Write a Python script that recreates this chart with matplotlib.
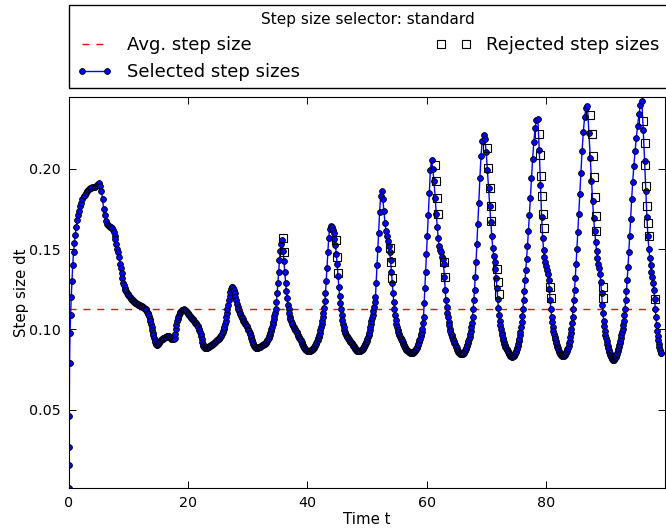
import numpy as np
import matplotlib
matplotlib.use('Agg')
import matplotlib.pyplot as plt

# selected step sizes dt, in the order the solver took them
dt_startup = [0.0012, 0.0156, 0.027, 0.046, 0.079, 0.0975, 0.109, 0.12, 0.13, 0.14,
              0.148, 0.154, 0.159, 0.164, 0.168, 0.171, 0.174, 0.177, 0.179, 0.181,
              0.183, 0.184, 0.185, 0.186, 0.187, 0.1875, 0.188, 0.188, 0.1885, 0.189,
              0.189, 0.1895, 0.19, 0.1905, 0.191]
dt_t5_12 = [0.1895, 0.186, 0.181, 0.175, 0.171, 0.1675, 0.1655, 0.165, 0.1645, 0.164,
            0.1635, 0.163, 0.162, 0.1605, 0.158, 0.156, 0.153, 0.15, 0.148, 0.145,
            0.141, 0.138, 0.135, 0.132, 0.129, 0.1275, 0.126, 0.1248, 0.1237, 0.1228,
            0.122, 0.1213, 0.1206, 0.12, 0.1195, 0.119, 0.1185, 0.118, 0.1176, 0.1173,
            0.117, 0.1167, 0.1164, 0.1161, 0.1158, 0.1155, 0.1152]
dt_t12_15 = [0.1149, 0.1147, 0.1145, 0.1143, 0.1141, 0.1139, 0.1136, 0.1133, 0.1129, 0.1124,
             0.1118, 0.1111, 0.1103, 0.1093, 0.1081, 0.1067, 0.1051, 0.1034, 0.1016, 0.0998,
             0.098, 0.0963, 0.0947, 0.0933, 0.0921, 0.0912, 0.0906, 0.0903, 0.0903]
dt_t15_19 = [0.0908, 0.0912, 0.0917, 0.0922, 0.0927, 0.0931, 0.0935, 0.0938, 0.0941, 0.0943,
             0.0945, 0.0947, 0.0949, 0.0951, 0.0953, 0.0955, 0.0956, 0.0957, 0.0958, 0.0958,
             0.0957, 0.0955, 0.095, 0.0944, 0.094, 0.0942, 0.0945, 0.0948, 0.0944, 0.094,
             0.0945, 0.097, 0.1, 0.103, 0.105, 0.1065, 0.108, 0.109, 0.11, 0.1108,
             0.1114, 0.1118, 0.1121, 0.1123, 0.1124, 0.1123]
dt_t19_26 = [0.1121, 0.1117, 0.1112, 0.1107, 0.1102, 0.1097, 0.1092, 0.1087, 0.1082, 0.1077,
             0.1072, 0.1067, 0.1062, 0.1057, 0.1052, 0.1047, 0.1042, 0.1037, 0.1032, 0.1026,
             0.102, 0.1013, 0.1005, 0.0996, 0.0985, 0.0972, 0.0957, 0.094, 0.0923, 0.0908,
             0.0897, 0.089, 0.0886, 0.0884, 0.0883, 0.0883, 0.0884, 0.0886, 0.0888, 0.089,
             0.0892, 0.0894, 0.0896, 0.0898, 0.09, 0.0902, 0.0905, 0.0908, 0.0911, 0.0914,
             0.0917, 0.092, 0.0923, 0.0926, 0.0929, 0.0932, 0.0935, 0.0938, 0.0942, 0.0946,
             0.095, 0.0955, 0.096, 0.0966, 0.0973, 0.0981, 0.099]
dt_t26_32 = [0.1, 0.1015, 0.1032, 0.1052, 0.1075, 0.11, 0.1127, 0.1155, 0.1183, 0.121,
             0.1233, 0.125, 0.1262, 0.1266, 0.126, 0.1245, 0.1225, 0.1202, 0.118, 0.116,
             0.1142, 0.1127, 0.1114, 0.1103, 0.1093, 0.1084, 0.1076, 0.1069, 0.1062, 0.1055,
             0.1048, 0.1041, 0.1034, 0.1027, 0.102, 0.1013, 0.1005, 0.0997, 0.0988, 0.0979,
             0.0969, 0.0958, 0.0947, 0.0936, 0.0925, 0.0915, 0.0906, 0.0898, 0.0892, 0.0888,
             0.0886, 0.0885, 0.0885, 0.0886, 0.0887, 0.0888, 0.0889, 0.089, 0.0891, 0.0893,
             0.0895, 0.0897]
dt_t32_36 = [0.09, 0.0902, 0.0904, 0.0906, 0.0909, 0.0912, 0.0915, 0.0918, 0.0922, 0.0927,
             0.0933, 0.094, 0.0948, 0.0957, 0.0967, 0.0978, 0.099, 0.1003, 0.1017, 0.1032,
             0.1048, 0.1065, 0.1083, 0.1103, 0.1125, 0.117, 0.1225, 0.129, 0.136, 0.143,
             0.149, 0.1535, 0.1555]
dt_t36_44 = [0.149, 0.1425, 0.1355, 0.129, 0.124, 0.1195, 0.1155, 0.1125, 0.11, 0.108,
             0.1065, 0.1052, 0.1041, 0.1032, 0.1024, 0.1017, 0.101, 0.1003, 0.0996, 0.0989,
             0.0982, 0.0975, 0.0968, 0.0961, 0.0954, 0.0947, 0.094, 0.0933, 0.0926, 0.0919,
             0.0912, 0.0905, 0.0898, 0.0891, 0.0885, 0.088, 0.0876, 0.0872, 0.0869, 0.0867,
             0.0866, 0.0865, 0.0865, 0.0866, 0.0867, 0.0868, 0.087, 0.0872, 0.0874, 0.0876,
             0.0879, 0.0883, 0.0887, 0.0892, 0.0897, 0.0903, 0.091, 0.0917, 0.0925, 0.0934,
             0.0944, 0.0955, 0.0967, 0.098, 0.0995, 0.1012, 0.1031, 0.1052, 0.1076, 0.1103,
             0.1135, 0.1175, 0.1225, 0.13, 0.1385, 0.148, 0.157, 0.1625, 0.1646]
dt_t44_53 = [0.1635, 0.162, 0.16, 0.1565, 0.1525, 0.147, 0.1405, 0.133, 0.1265, 0.121,
             0.1165, 0.1125, 0.109, 0.106, 0.1035, 0.1015, 0.0998, 0.0986, 0.0976, 0.0968,
             0.0961, 0.0955, 0.0949, 0.0944, 0.0939, 0.0934, 0.0929, 0.0924, 0.0919, 0.0914,
             0.0909, 0.0904, 0.0899, 0.0894, 0.0889, 0.0884, 0.0879, 0.0875, 0.0871, 0.0868,
             0.0866, 0.0865, 0.0864, 0.0864, 0.0865, 0.0866, 0.0868, 0.087, 0.0873, 0.0876,
             0.088, 0.0884, 0.0889, 0.0894, 0.09, 0.0906, 0.0913, 0.0921, 0.093, 0.094,
             0.0951, 0.0965, 0.098, 0.0996, 0.1013, 0.1031, 0.105, 0.107, 0.1092, 0.1116,
             0.1142, 0.117, 0.12, 0.129, 0.14, 0.15, 0.16, 0.173, 0.183, 0.186]
dt_t53_61 = [0.181, 0.1735, 0.1665, 0.1615, 0.158, 0.155, 0.152, 0.148, 0.143, 0.136,
             0.129, 0.1225, 0.117, 0.1125, 0.109, 0.106, 0.1035, 0.1015, 0.0998, 0.0985,
             0.0974, 0.0964, 0.0955, 0.0947, 0.094, 0.0933, 0.0926, 0.0919, 0.0912, 0.0905,
             0.0898, 0.0891, 0.0885, 0.0879, 0.0874, 0.087, 0.0866, 0.0863, 0.0861, 0.0859,
             0.0857, 0.0856, 0.0855, 0.0854, 0.0854, 0.0855, 0.0856, 0.0858, 0.086, 0.0863,
             0.0866, 0.087, 0.0875, 0.088, 0.0886, 0.0893, 0.0901, 0.091, 0.092, 0.0931,
             0.0943, 0.0956, 0.097, 0.0985, 0.1, 0.104, 0.108, 0.1167, 0.126, 0.136,
             0.147, 0.158, 0.171, 0.185, 0.199, 0.2056]
dt_t61_70 = [0.2, 0.1925, 0.182, 0.172, 0.1636, 0.157, 0.152, 0.1494, 0.148, 0.1454,
             0.1438, 0.1406, 0.1327, 0.1244, 0.118, 0.114, 0.1105, 0.1075, 0.1048, 0.1025,
             0.1005, 0.0988, 0.0974, 0.0962, 0.0952, 0.0943, 0.0934, 0.0925, 0.0916, 0.0907,
             0.0898, 0.0889, 0.0881, 0.0874, 0.0868, 0.0862, 0.0857, 0.0853, 0.085, 0.0847,
             0.0845, 0.0844, 0.0845, 0.0847, 0.0849, 0.0852, 0.0855, 0.0859, 0.0864, 0.087,
             0.0877, 0.0885, 0.0894, 0.0904, 0.0915, 0.0927, 0.094, 0.0955, 0.0972, 0.0991,
             0.1013, 0.104, 0.108, 0.1125, 0.118, 0.1245, 0.1325, 0.142, 0.153, 0.1655,
             0.179, 0.194, 0.208, 0.2175, 0.221]
dt_t70_79 = [0.2185, 0.2105, 0.199, 0.188, 0.177, 0.167, 0.158, 0.151, 0.146, 0.142,
             0.1375, 0.132, 0.1255, 0.119, 0.1135, 0.109, 0.1055, 0.1025, 0.1, 0.098,
             0.0963, 0.0948, 0.0935, 0.0923, 0.0912, 0.0902, 0.0893, 0.0885, 0.0877, 0.087,
             0.0863, 0.0857, 0.0851, 0.0846, 0.0841, 0.0837, 0.0834, 0.0832, 0.0831, 0.0831,
             0.0832, 0.0834, 0.0837, 0.0841, 0.0846, 0.0852, 0.0859, 0.0867, 0.0876, 0.0886,
             0.0897, 0.091, 0.0925, 0.0942, 0.0962, 0.0985, 0.1012, 0.1045, 0.1085, 0.113,
             0.118, 0.124, 0.131, 0.137, 0.144, 0.152, 0.161, 0.171, 0.182, 0.194,
             0.206, 0.217, 0.2255, 0.2305, 0.231]
dt_t79_87 = [0.212, 0.19, 0.17, 0.157, 0.1495, 0.145, 0.142, 0.1395, 0.137, 0.1345,
             0.131, 0.125, 0.118, 0.1125, 0.108, 0.1045, 0.1015, 0.099, 0.097, 0.0953,
             0.0938, 0.0925, 0.0913, 0.0902, 0.0892, 0.0883, 0.0875, 0.0867, 0.086, 0.0853,
             0.0847, 0.0842, 0.0838, 0.0835, 0.0833, 0.0832, 0.0833, 0.0835, 0.0838, 0.0842,
             0.0847, 0.0853, 0.086, 0.0868, 0.0877, 0.0887, 0.0899, 0.0913, 0.093, 0.095,
             0.0975, 0.1005, 0.104, 0.108, 0.1125, 0.118, 0.1245, 0.132, 0.1405, 0.15,
             0.1605, 0.172, 0.1845, 0.1975, 0.211, 0.223, 0.2325, 0.238, 0.239]
dt_t87_96 = [0.2225, 0.207, 0.1925, 0.18, 0.1695, 0.161, 0.1545, 0.149, 0.1445, 0.141,
             0.138, 0.1345, 0.1295, 0.1225, 0.1155, 0.11, 0.1055, 0.102, 0.099, 0.0966,
             0.0945, 0.0927, 0.0911, 0.0897, 0.0884, 0.0872, 0.0861, 0.0851, 0.0842, 0.0834,
             0.0827, 0.0821, 0.0816, 0.0812, 0.081, 0.0812, 0.0816, 0.082, 0.0825, 0.0831,
             0.0838, 0.0846, 0.0855, 0.0865, 0.0876, 0.0888, 0.0901, 0.0915, 0.093, 0.0946,
             0.0963, 0.0981, 0.1, 0.1025, 0.1055, 0.109, 0.113, 0.118, 0.124, 0.131,
             0.139, 0.148, 0.158, 0.169, 0.181, 0.192, 0.202, 0.211, 0.2195, 0.227,
             0.234, 0.2395, 0.2425]
dt_t96_100 = [0.224, 0.205, 0.186, 0.17, 0.158, 0.15, 0.1445, 0.14, 0.136, 0.1325,
              0.129, 0.1245, 0.119, 0.113, 0.1075, 0.1025, 0.099, 0.096, 0.0935, 0.091,
              0.089, 0.087, 0.0855, 0.085]

# rejected step attempts (time, tried dt)
rejected_t = [35.82, 36.05, 44.87, 44.98, 45.2, 53.92, 54.08, 54.19,
              61.45, 61.62, 61.73, 61.9, 62.9, 63.1,
              70.1, 70.27, 70.55, 70.72, 70.84, 71.75, 71.89, 72.1,
              78.93, 79.1, 79.26, 79.38, 79.6, 79.71, 80.77, 80.89,
              87.42, 87.69, 87.86, 88.09, 88.26, 88.36, 88.48, 89.53, 89.65,
              96.35, 96.57, 96.68, 96.8, 96.97, 97.13, 97.35, 98.36]
rejected_dt = [0.1569, 0.1483, 0.1556, 0.1452, 0.1352, 0.1504, 0.1417, 0.1317,
               0.2025, 0.1927, 0.1819, 0.1719, 0.1417, 0.1325,
               0.2129, 0.2004, 0.1881, 0.1771, 0.1677, 0.1375, 0.1296, 0.1219,
               0.2219, 0.2088, 0.1954, 0.1833, 0.1721, 0.1631, 0.1267, 0.1194,
               0.2333, 0.2219, 0.2083, 0.195, 0.1825, 0.1708, 0.1615, 0.1263, 0.1194,
               0.2298, 0.2163, 0.2027, 0.1892, 0.1771, 0.1663, 0.1579, 0.1188]

avg_step = 0.1125
selector = 'standard'

dt = np.concatenate([dt_startup, dt_t5_12, dt_t12_15, dt_t15_19, dt_t19_26, dt_t26_32,
                     dt_t32_36, dt_t36_44, dt_t44_53, dt_t53_61, dt_t61_70, dt_t70_79,
                     dt_t79_87, dt_t87_96, dt_t96_100])
# each step starts where the previous one ended
t = np.concatenate([[0.0], np.cumsum(dt[:-1])])

fig = plt.figure(figsize=(6.66, 5.30), dpi=100)
ax = fig.add_axes([0.1036, 0.0792, 0.8950, 0.7383])

ax.axhline(avg_step, color='r', ls='--', dashes=(5, 5), lw=1, label='Avg. step size')
ax.plot(t, dt, 'b-', lw=1, marker='o', ms=4.2, mfc='b', mec='k', mew=0.6,
        label='Selected step sizes')
ax.plot(rejected_t, rejected_dt, 's', ms=5.5, mfc='none', mec='k', mew=0.8,
        label='Rejected step sizes')

ax.set_xlim(0, 100)
ax.set_ylim(0.99 * dt.min(), 1.01 * dt.max())
ax.set_xticks([0, 20, 40, 60, 80])
ax.set_yticks([0.05, 0.10, 0.15, 0.20])
ax.set_yticklabels(['0.05', '0.10', '0.15', '0.20'])
ax.tick_params(direction='in', top=True, right=True, length=5, width=0.7,
               labelsize=10.3, pad=6)
ax.set_xlabel('Time t', fontsize=10.8, labelpad=1)
ax.set_ylabel('Step size dt', fontsize=10.8, labelpad=0)

leg = ax.legend(loc='lower left', bbox_to_anchor=(0, 1.022, 1.003, 0.2), mode='expand',
                ncol=2, borderaxespad=0, numpoints=2, fontsize=13,
                title='Step size selector: ' + selector, title_fontsize=11,
                fancybox=False, framealpha=1)
leg.get_frame().set_edgecolor('k')
leg.get_frame().set_linewidth(1.0)

fig.savefig('out.png', dpi=100)
